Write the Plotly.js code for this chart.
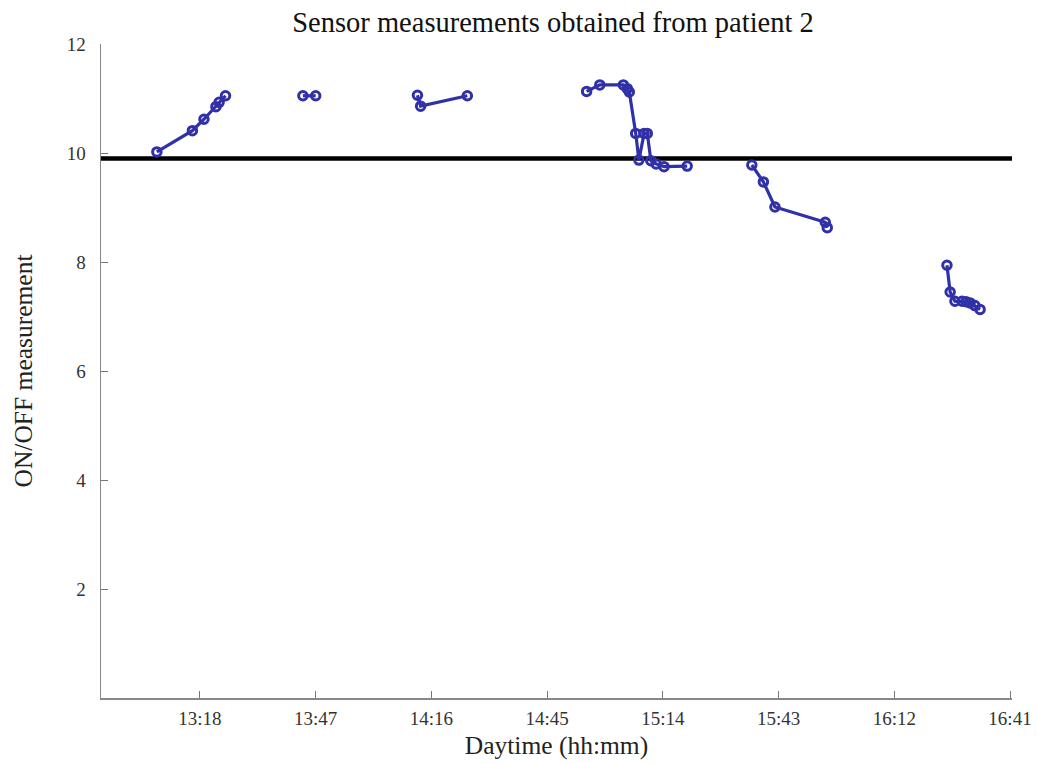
<!DOCTYPE html>
<html>
<head>
<meta charset="utf-8">
<script src="https://cdn.plot.ly/plotly-3.0.1.min.js"></script>
<style>html,body{margin:0;padding:0;background:#fff;}#chart{width:1037px;height:764px;}</style>
</head>
<body>
<div id="chart"></div>
<script>
// Measurement segments (time hh:mm:ss, ON/OFF value); null separates segments
const times = [
  "13:07:12","13:16:06","13:19:00","13:22:00","13:22:48","13:24:24", null,
  "13:43:48","13:47:00", null,
  "14:12:30","14:13:18","14:25:00", null,
  "14:54:54","14:58:12","15:04:06","15:05:06","15:05:36","15:07:12","15:08:00","15:09:18","15:10:06","15:11:00","15:12:18","15:14:18","15:20:06", null,
  "15:36:18","15:39:12","15:42:06","15:54:42","15:55:12", null,
  "16:25:12","16:26:00","16:27:12","16:29:00","16:30:00","16:31:00","16:32:12","16:33:30"
];
const values = [
  10.02,10.41,10.62,10.85,10.93,11.05, null,
  11.05,11.05, null,
  11.06,10.86,11.05, null,
  11.13,11.25,11.25,11.18,11.12,10.36,9.87,10.36,10.36,9.86,9.80,9.75,9.76, null,
  9.78,9.47,9.01,8.73,8.63, null,
  7.94,7.45,7.28,7.28,7.27,7.25,7.20,7.13
];
const thresholdValue = 9.9;
const tickTimes = ["13:18","13:47","14:16","14:45","15:14","15:43","16:12","16:41"];
const yTicks = [2,4,6,8,10,12];
const xRangeTimes = ["12:53:12","16:41:30"];

function toMin(t){ if(t===null) return null; const p=t.split(":").map(Number); return p[0]*60+p[1]+(p[2]||0)/60; }
const xs = times.map(toMin);
const xr = xRangeTimes.map(toMin);
const blue = "rgb(48,48,168)";
const serif = "Liberation Serif, DejaVu Serif, serif";

const traces = [
  {x: xr, y: [thresholdValue, thresholdValue], mode: "lines", line: {color: "#000", width: 4.5}, hoverinfo: "skip", showlegend: false},
  {x: xs, y: values, mode: "lines+markers", connectgaps: false,
   line: {color: blue, width: 3.2},
   marker: {symbol: "circle-open", size: 8.5, color: blue, line: {width: 3, color: blue}},
   showlegend: false}
];
const layout = {
  width: 1037, height: 764,
  margin: {l: 101, r: 25, t: 44, b: 66},
  paper_bgcolor: "#fff", plot_bgcolor: "#fff",
  font: {family: serif, color: "#222", size: 19},
  title: {text: "Sensor measurements obtained from patient 2", x: 553/1037, xanchor: "center", y: 1 - 22/764, yanchor: "middle", font: {family: serif, size: 28.5, color: "#111"}},
  xaxis: {range: xr, tickvals: tickTimes.map(toMin), ticktext: tickTimes, ticks: "inside", ticklen: 7, tickcolor: "#777",
          showline: true, linecolor: "#888", linewidth: 1.5, showgrid: false, zeroline: false, mirror: false,
          ticklabelstandoff: 3,
          tickfont: {family: serif, size: 19, color: "#333"},
          title: {text: "Daytime (hh:mm)", font: {family: serif, size: 25.5, color: "#222"}, standoff: 8}},
  yaxis: {range: [0, 12], tickvals: yTicks, ticktext: yTicks.map(String), ticks: "inside", ticklen: 7, tickcolor: "#777",
          showline: true, linecolor: "#888", linewidth: 1.5, showgrid: false, zeroline: false,
          ticklabelstandoff: 10,
          tickfont: {family: serif, size: 19, color: "#333"},
          title: {text: "ON/OFF measurement", font: {family: serif, size: 25.5, color: "#222"}, standoff: 27}}
};
Plotly.newPlot("chart", traces, layout, {displayModeBar: false, staticPlot: true});
</script>
</body>
</html>
